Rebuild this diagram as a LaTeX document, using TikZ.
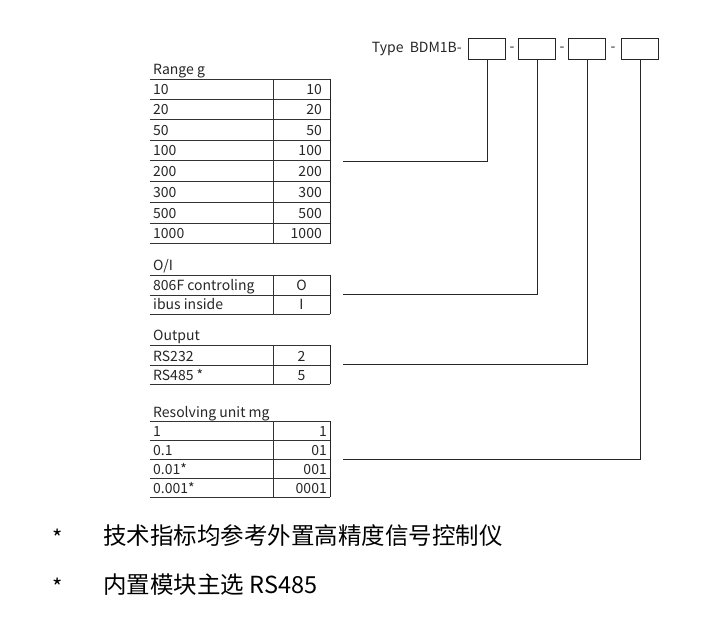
\documentclass[tikz,border=0pt]{standalone}
\usepackage{fontspec}
\setmainfont{Noto Sans CJK SC}
\begin{document}
\begin{tikzpicture}[x=1pt,y=-1pt,
  tl/.style={draw=black!80,line width=0.8pt},
  cell/.style={inner sep=0pt,font=\fontsize{14}{16}\selectfont,text=black!85},
  bx/.style={draw=black!85,line width=0.9pt,minimum width=37pt,minimum height=21pt,inner sep=0pt},
  conn/.style={draw=black!85,line width=0.9pt}]
\useasboundingbox (0,0) rectangle (725,617);
% Type boxes
\node[cell,anchor=east] (type) at (462,49) {Type\ \ BDM1B-};
\node[bx] (b1) at (487,48.5) {};
\node[bx] (b2) at (537,48.5) {};
\node[bx] (b3) at (587,48.5) {};
\node[bx] (b4) at (640,48.5) {};
\node[cell] (d1) at (512,49) {-};
\node[cell] (d2) at (562,49) {-};
\node[cell] (d3) at (613,49) {-};
% Table 1
\node[cell,anchor=base west] (h1) at (153,75) {Range g};
\foreach \y/\t [count=\i] in {79/10,99/20,120/50,140/100,161/200,182/300,203/500,223/1000}{
  \draw[tl] (150,\y+20.6) -- (330,\y+20.6);
  \node[cell,anchor=base west] (r1l\i) at (153,\y+16) {\t};
  \node[cell,anchor=base east] (r1r\i) at (322,\y+16) {\t};
}
\draw[tl] (150,79) -- (330,79);
\draw[tl] (273,79) -- (273,244);
\draw[conn] (330,79) -- (330,244);
% Table 2
\node[cell,anchor=base west] (h2) at (153,271) {O/I};
\draw[tl] (150,275) -- (330,275) (150,295) -- (330,295) (150,314) -- (330,314);
\draw[tl] (273,275) -- (273,314);
\draw[conn] (330,275) -- (330,314);
\node[cell,anchor=base west] (r2l1) at (153,291) {806F controling};
\node[cell,anchor=base] (r2r1) at (301.5,291) {O};
\node[cell,anchor=base west] (r2l2) at (153,310) {ibus inside};
\node[cell,anchor=base] (r2r2) at (301.5,310) {I};
% Table 3
\node[cell,anchor=base west] (h3) at (153,341) {Output};
\draw[tl] (150,345) -- (330,345) (150,365) -- (330,365) (150,384) -- (330,384);
\draw[tl] (273,345) -- (273,384);
\draw[conn] (330,345) -- (330,384);
\node[cell,anchor=base west] (r3l1) at (153,361) {RS232};
\node[cell,anchor=base] (r3r1) at (301.5,361) {2};
\node[cell,anchor=base west] (r3l2) at (153,380) {RS485 *};
\node[cell,anchor=base] (r3r2) at (301.5,380) {5};
% Table 4
\node[cell,anchor=base west] (h4) at (153,417) {Resolving unit mg};
\foreach \y/\a/\b [count=\i] in {421/1/1,440/0.1/01,459/0.01*/001,478/0.001*/0001}{
  \draw[tl] (150,\y+19) -- (330,\y+19);
  \node[cell,anchor=base west] (r4l\i) at (153,\y+15) {\a};
  \node[cell,anchor=base east] (r4r\i) at (327,\y+15) {\b};
}
\draw[tl] (150,421) -- (330,421);
\draw[tl] (273,421) -- (273,497);
\draw[conn] (330,421) -- (330,497);
% connectors
\coordinate (e1) at (343,161);
\coordinate (e2) at (343,294);
\coordinate (e3) at (343,364);
\coordinate (e4) at (343,459);
\draw[conn] (b1.south) |- (e1);
\draw[conn] (b2.south) |- (e2);
\draw[conn] (b3.south) |- (e3);
\draw[conn] (b4.south) |- (e4);
% footnotes
\node[anchor=base,font=\fontsize{22}{24}\selectfont] (s1) at (58,546) {*};
\node[anchor=base west,inner sep=0pt,font=\fontsize{23.5}{26}\selectfont] (f1) at (103,544) {技术指标均参考外置高精度信号控制仪};
\node[anchor=base,font=\fontsize{22}{24}\selectfont] (s2) at (58,595) {*};
\node[anchor=base west,inner sep=0pt,font=\fontsize{23.5}{26}\selectfont] (f2) at (103,593) {内置模块主选 RS485};
\end{tikzpicture}
\end{document}
